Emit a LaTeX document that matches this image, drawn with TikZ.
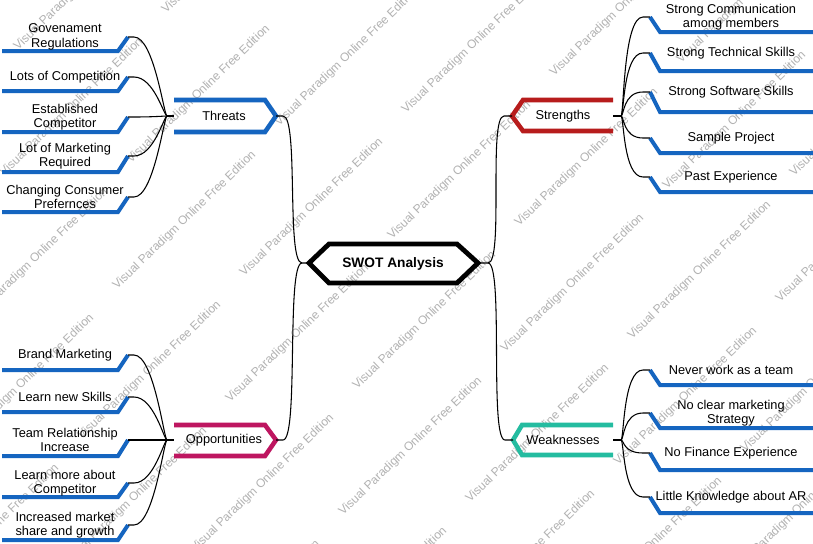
\documentclass[tikz,border=0pt]{standalone}
\usepackage{fontspec}
\setmainfont{Liberation Sans}
\definecolor{leafblue}{RGB}{21,101,192}
\definecolor{strred}{RGB}{183,28,28}
\definecolor{oppmag}{RGB}{190,22,96}
\definecolor{weakteal}{RGB}{36,188,160}
\definecolor{wmgray}{RGB}{178,178,178}
\begin{document}
\begin{tikzpicture}[x=0.75pt,y=-0.75pt,
  conn/.style={draw=black,line width=0.8pt},
  leafline/.style={draw=leafblue,line width=3pt,line join=miter},
  branch/.style={line width=3.4pt,line join=miter},
  txt/.style={font=\fontsize{9.6}{10.8}\selectfont,align=center,inner sep=0pt},
  wm/.style={font=\fontsize{9}{10}\selectfont,text=wmgray,rotate=44,anchor=base west,inner sep=0pt}]
\useasboundingbox (0,0) rectangle (813,543);
\fill[white] (0,0) rectangle (813,543);
% watermark
\begin{scope}
\clip (0,0) rectangle (813,543);
\foreach \r in {-3,...,2}{
  \foreach \k in {-1,...,3}{
    \node[wm] (wa\r\k) at ({82+275*\k+113*\r},{440-50*\k+113*\r}) {Visual Paradigm Online Free Edition};
    \node[wm] (wb\r\k) at ({230+275*\k+113*\r},{403-50*\k+113*\r}) {Visual Paradigm Online Free Edition};
  }}
\end{scope}
% centre
\coordinate (cL) at (309,263); \coordinate (cLh) at (302,263);
\coordinate (cR) at (478,263); \coordinate (cRh) at (488,263);
\draw[line width=3.6pt,line join=miter] (309,263) -- (329,244) -- (457,244) -- (478,263) -- (457,283) -- (329,283) -- cycle;
\node[font=\bfseries\fontsize{10.3}{12}\selectfont,inner sep=0pt] (swot) at (393,264) {SWOT Analysis};
% threats
\draw[branch,draw=leafblue] (174,100) -- (265,100) -- (276,116) -- (265,132) -- (174,132);
\node[txt] (threats) at (224,116) {Threats};
\coordinate (thR) at (276,116); \coordinate (thL) at (174,116); \coordinate (thH) at (167,116);
\draw[conn] (thH) -- (thL);
% opportunities
\draw[branch,draw=oppmag] (174,425) -- (265,425) -- (276,440) -- (265,456) -- (174,456);
\node[txt] (opps) at (224,440) {Opportunities};
\coordinate (opR) at (276,440); \coordinate (opL) at (174,440); \coordinate (opH) at (167,440);
\draw[conn] (opH) -- (opL);
% strengths
\draw[branch,draw=strred] (613,100) -- (523,100) -- (512,116) -- (523,131) -- (613,131);
\node[txt] (strengths) at (563,116) {Strengths};
\coordinate (stL) at (512,116); \coordinate (stR) at (613,116); \coordinate (stH) at (621,116);
\draw[conn] (stR) -- (stH);
% weaknesses
\draw[branch,draw=weakteal] (613,425) -- (522,425) -- (513,440) -- (522,455) -- (613,455);
\node[txt] (weak) at (563,440) {Weaknesses};
\coordinate (wkL) at (513,440); \coordinate (wkR) at (613,440); \coordinate (wkH) at (621,440);
\draw[conn] (wkR) -- (wkH);
% centre connectors
\draw[conn] (thR) -- ++(7,0) .. controls +(16,0) and +(-16,0) .. (cLh) -- (cL);
\draw[conn] (opR) -- ++(7,0) .. controls +(16,0) and +(-16,0) .. (cLh);
\draw[conn] (stL) -- ++(-8,0) .. controls +(-16,0) and +(16,0) .. (cRh) -- (cR);
\draw[conn] (wkL) -- ++(-8,0) .. controls +(-16,0) and +(16,0) .. (cRh);
% threat leaves
\foreach \n/\t/\b/\s in {1/37/51/{Govenament\\Regulations},2/77/91/{Lots of Competition},3/117/132/{Established\\Competitor},4/156/172/{Lot of Marketing\\Required},5/197/212/{Changing Consumer\\Prefernces}}{
  \draw[leafline] (2,\b) -- (118,\b) -- (128,\t);
  \coordinate (thT\n) at (128,\t);
  \node[txt] (thN\n) at (65,\t) {\s};
  \draw[conn] (thT\n) -- ++(6,0) .. controls +(20,0) and +(-3,0) .. (thH);
}
% opportunity leaves
\foreach \n/\t/\b/\s in {1/355/370/{Brand Marketing},2/397/412/{Learn new Skills},3/440/456/{Team Relationship\\Increase},4/483/497/{Learn more about\\Competitor},5/525/540/{Increased market\\share and growth}}{
  \draw[leafline] (2,\b) -- (118,\b) -- (128,\t);
  \coordinate (opT\n) at (128,\t);
  \node[txt] (opN\n) at (65,\t) {\s};
  \draw[conn] (opT\n) -- ++(6,0) .. controls +(20,0) and +(-3,0) .. (opH);
}
% strength leaves
\foreach \n/\t/\b/\s in {1/17/32/{Strong Communication\\among members},2/53/71/{Strong Technical Skills},3/92/112/{Strong Software Skills},4/138/153/{Sample Project},5/177/192/{Past Experience}}{
  \draw[leafline] (813,\b) -- (660,\b) -- (650,\t);
  \coordinate (stT\n) at (650,\t);
  \node[txt] (stN\n) at (731,\t) {\s};
  \draw[conn] (stT\n) -- ++(-7,0) .. controls +(-20,0) and +(3,0) .. (stH);
}
% weakness leaves
\foreach \n/\t/\b/\s in {1/370/385/{Never work as a team},2/413/428/{No clear marketing\\Strategy},3/453/470/{No Finance Experience},4/497/513/{Little Knowledge about AR}}{
  \draw[leafline] (813,\b) -- (660,\b) -- (650,\t);
  \coordinate (wkT\n) at (650,\t);
  \node[txt] (wkN\n) at (731,\t) {\s};
  \draw[conn] (wkT\n) -- ++(-7,0) .. controls +(-20,0) and +(3,0) .. (wkH);
}
\end{tikzpicture}
\end{document}
